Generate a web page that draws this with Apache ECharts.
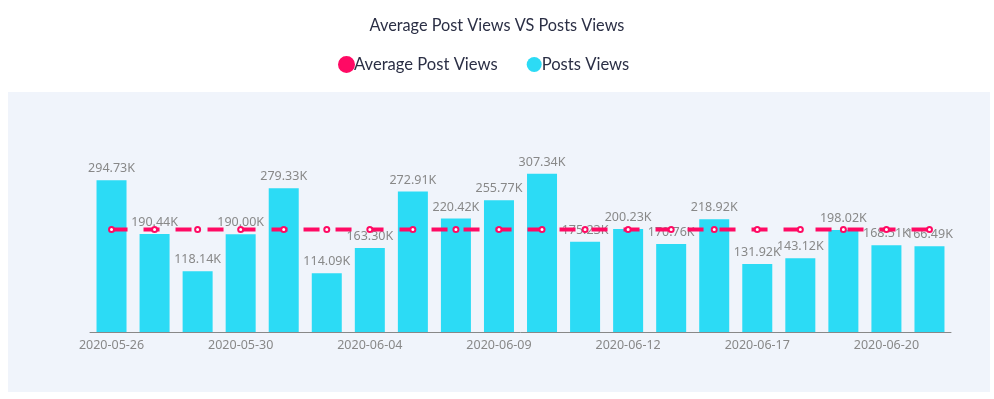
<!DOCTYPE html>
<html>
<head>
<meta charset="utf-8">
<script src="https://cdn.jsdelivr.net/npm/echarts@6/dist/echarts.min.js"></script>
<style>
html,body{margin:0;padding:0;background:#fff;}
#chart{width:994px;height:399px;}
</style>
</head>
<body>
<div id="chart"></div>
<script>
const categories = ['2020-05-26','2020-05-27','2020-05-28','2020-05-30','2020-05-31','2020-06-02','2020-06-04','2020-06-05','2020-06-07','2020-06-09','2020-06-10','2020-06-11','2020-06-12','2020-06-14','2020-06-15','2020-06-17','2020-06-18','2020-06-19','2020-06-20','2020-06-21'];
const postsViews = [294730,190440,118140,190000,279330,114090,163300,272910,220420,255770,307340,175230,200230,170760,218920,131920,143120,198020,168510,166490];
const averageViews = [198980,198980,198980,198980,198980,198980,198980,198980,198980,198980,198980,198980,198980,198980,198980,198980,198980,198980,198980,198980];
const titleText = 'Average Post Views VS Posts Views';
const seriesNames = ['Average Post Views','Posts Views'];

const chart = echarts.init(document.getElementById('chart'), null, {renderer:'canvas'});
const fmtK = v => (v/1000).toFixed(2) + 'K';
chart.setOption({
  animation:false,
  graphic:[{type:'rect', left:8, top:92, shape:{width:982, height:300}, style:{fill:'#f0f4fb'}, z:-10, silent:true}],
  title:{text:titleText, left:'center', top:13, textStyle:{fontFamily:'Lato', fontSize:16.3, fontWeight:'normal', color:'#2b2f45'}},
  legend:{top:51, left:333, itemGap:29, itemWidth:15, itemHeight:15, icon:'circle',
    textStyle:{fontFamily:'Lato', fontSize:16.6, color:'#2b2f45', padding:[0,0,0,-5]},
    data:seriesNames},
  grid:{left:90, right:43, top:126, bottom:67},
  xAxis:{type:'category', data:categories,
    axisLine:{lineStyle:{color:'#888', width:1}},
    axisTick:{alignWithLabel:true, interval:2, lineStyle:{color:'#888'}},
    axisLabel:{interval:2, color:'#888', fontSize:12.5, fontFamily:'Noto Sans', margin:7}},
  yAxis:{type:'value', min:0, max:400000, show:false, splitLine:{show:false}},
  series:[
    {name:seriesNames[0], type:'line', data:averageViews, z:5,
      symbol:'emptyCircle', symbolSize:5,
      itemStyle:{color:'#ff0a64', borderColor:'#ff0a64', borderWidth:1},
      lineStyle:{color:'#ff0a64', width:4, type:[16,16]}},
    {name:seriesNames[1], type:'bar', data:postsViews, barWidth:30, z:2,
      itemStyle:{color:'#2cdbf5'},
      label:{show:true, position:'top', distance:5, color:'#888', fontSize:12.5, fontFamily:'Noto Sans', formatter:p=>fmtK(p.value)}}
  ]
});
</script>
</body>
</html>
